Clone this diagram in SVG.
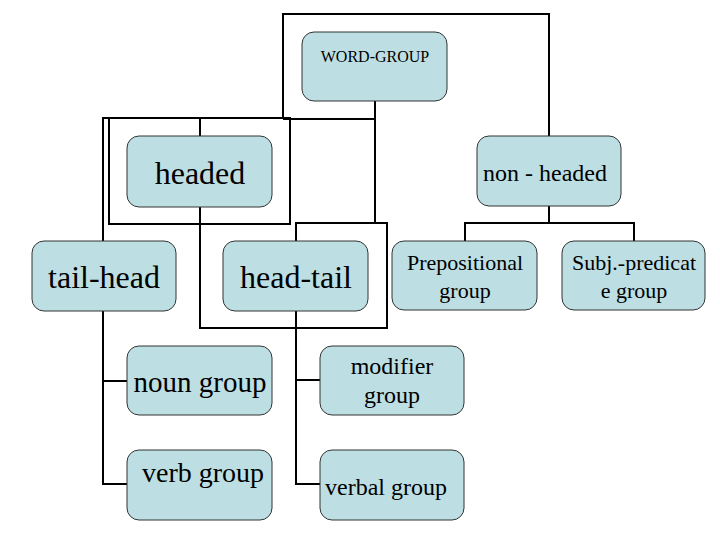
<svg xmlns="http://www.w3.org/2000/svg" width="720" height="540" viewBox="0 0 720 540">
<style>
.box{fill:#bddfe3;stroke:#333;stroke-width:1}
.ln{fill:none;stroke:#000;stroke-width:2}
text{font-family:"Liberation Serif","Times New Roman",serif;fill:#000;text-anchor:middle}
</style>
<rect width="720" height="540" fill="#fff"/>
<g id="connectors" class="ln">
<path d="M375,101 V224"/>
<path d="M283,119 V14 H549 V136"/>
<path d="M283,119 H375"/>
<rect x="109" y="118" width="181" height="106"/>
<path d="M103,241 V118 H109"/>
<path d="M200,118 V136"/>
<path d="M200,207 V328 H387 V223 H296 V241"/>
<path d="M549,206 V223 M465,241 V223 H634 V241"/>
<path d="M103,311 V484 H127 M103,381 H127"/>
<path d="M296,311 V484 H320 M296,380 H320"/>
</g>
<g id="word-group"><rect class="box" x="302" y="32" width="145" height="69" rx="12"/><text x="375" y="62" font-size="16">WORD-GROUP</text></g>
<g id="headed"><rect class="box" x="127" y="136" width="145" height="71" rx="12"/><text x="200" y="184" font-size="32">headed</text></g>
<g id="non-headed"><rect class="box" x="477" y="136" width="144" height="70" rx="12"/><text x="545" y="181" font-size="24">non - headed</text></g>
<g id="tail-head"><rect class="box" x="32" y="241" width="144" height="70" rx="12"/><text x="104" y="288" font-size="32">tail-head</text></g>
<g id="head-tail"><rect class="box" x="223" y="241" width="145" height="70" rx="12"/><text x="296" y="288" font-size="32">head-tail</text></g>
<g id="prepositional"><rect class="box" x="392" y="241" width="145" height="69" rx="12"/><text x="465" y="270" font-size="22">Prepositional</text><text x="465" y="298" font-size="22">group</text></g>
<g id="subj-predicate"><rect class="box" x="562" y="241" width="143" height="69" rx="12"/><text x="634" y="270" font-size="22">Subj.-predicat</text><text x="634" y="298" font-size="22">e group</text></g>
<g id="noun-group"><rect class="box" x="127" y="346" width="145" height="69" rx="12"/><text x="200" y="392" font-size="29">noun group</text></g>
<g id="verb-group"><rect class="box" x="127" y="450" width="145" height="70" rx="12"/><text x="203" y="482" font-size="28">verb group</text></g>
<g id="modifier-group"><rect class="box" x="320" y="346" width="144" height="69" rx="12"/><text x="392" y="374" font-size="24">modifier</text><text x="392" y="403" font-size="24">group</text></g>
<g id="verbal-group"><rect class="box" x="320" y="450" width="144" height="70" rx="12"/><text x="386" y="495" font-size="24">verbal group</text></g>
</svg>
